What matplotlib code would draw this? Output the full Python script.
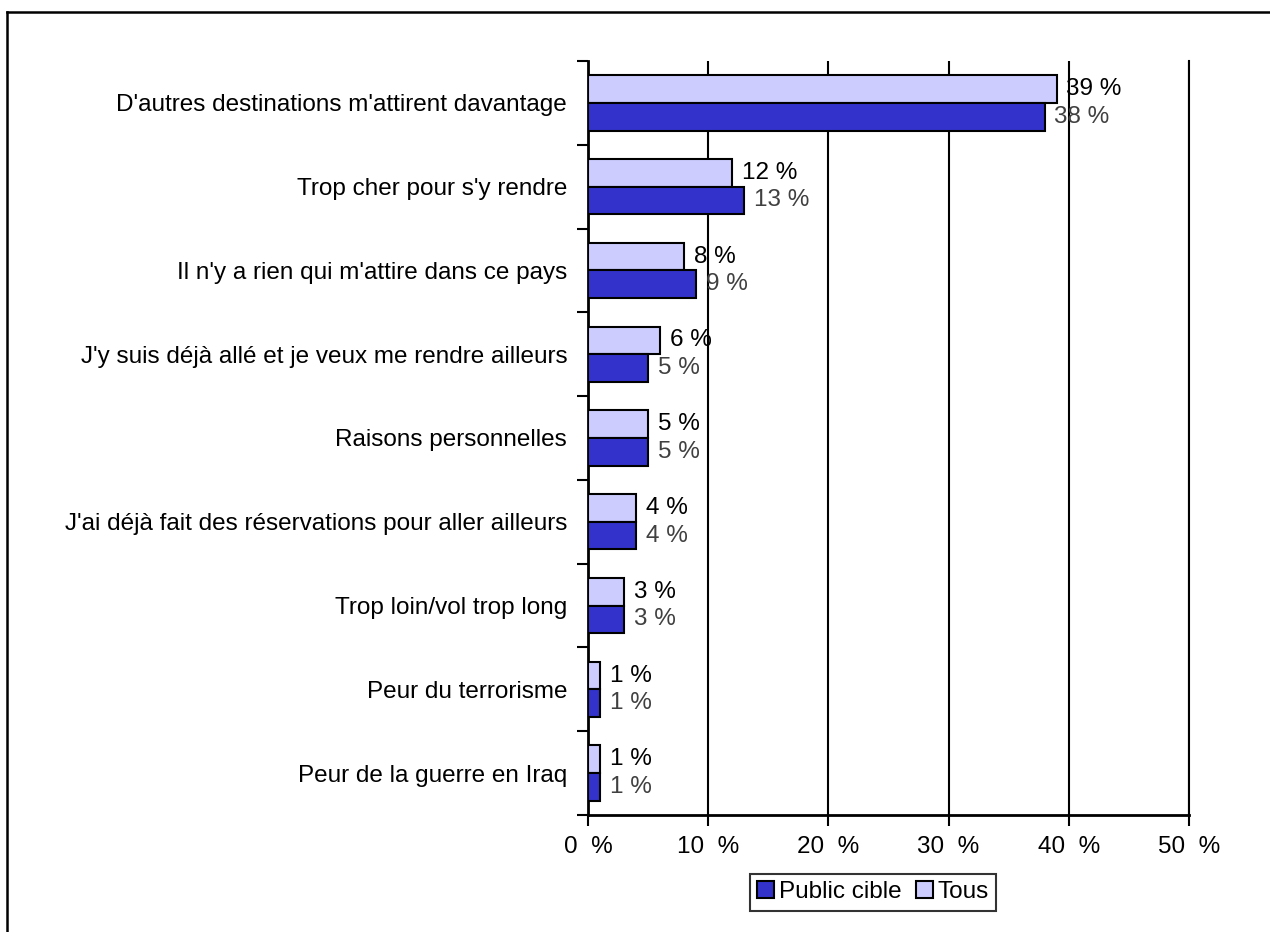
import numpy as np
import matplotlib.pyplot as plt
from matplotlib.lines import Line2D

plt.rcParams['font.family'] = ['Liberation Sans', 'DejaVu Sans']

categories = ["D'autres destinations m'attirent davantage",
              "Trop cher pour s'y rendre",
              "Il n'y a rien qui m'attire dans ce pays",
              "J'y suis déjà allé et je veux me rendre ailleurs",
              "Raisons personnelles",
              "J'ai déjà fait des réservations pour aller ailleurs",
              "Trop loin/vol trop long",
              "Peur du terrorisme",
              "Peur de la guerre en Iraq"]
public_cible = [38, 13, 9, 5, 5, 4, 3, 1, 1]
tous = [39, 12, 8, 6, 5, 4, 3, 1, 1]
xticks = [0, 10, 20, 30, 40, 50]

fs = 17.5

fig = plt.figure(figsize=(12.70, 9.32), dpi=100)
ax = fig.add_axes([588/1270, 1 - 815/932, (1189 - 588)/1270, (815 - 61)/932])

n = len(categories)
y = np.arange(n)
h = 0.33
ax.barh(y - h/2, tous, height=h, color='#CCCCFF', edgecolor='black', linewidth=1.5, label='Tous', zorder=3)
ax.barh(y + h/2, public_cible, height=h, color='#3333CC', edgecolor='black', linewidth=1.5, label='Public cible', zorder=3)

for i in range(n):
    ax.text(tous[i] + 0.8, y[i] - h/2, '%d %%' % tous[i], va='center', ha='left', fontsize=fs, color='black', zorder=5)
    ax.text(public_cible[i] + 0.8, y[i] + h/2, '%d %%' % public_cible[i], va='center', ha='left', fontsize=fs, color='#404040', zorder=5)

ax.set_ylim(n - 0.5, -0.5)
ax.set_xlim(0, 50)
ax.set_xticks(xticks)
ax.set_xticklabels(['%d  %%' % v for v in xticks], fontsize=fs)
ax.tick_params(axis='x', direction='out', length=8, width=1.5, pad=7)
ax.set_yticks(np.arange(n + 1) - 0.5)
ax.set_yticklabels([])
ax.set_yticks(y, minor=True)
ax.set_yticklabels(categories, minor=True, fontsize=fs)
ax.tick_params(axis='y', which='major', direction='out', length=8, width=1.5)
ax.tick_params(axis='y', which='minor', length=0, pad=15)
ax.xaxis.grid(True, color='black', linewidth=1.5, zorder=1)
ax.set_axisbelow(True)
ax.axvline(50, color='black', linewidth=1.5, clip_on=False, zorder=1)
for s in ['top', 'right']:
    ax.spines[s].set_visible(False)
for s in ['left', 'bottom']:
    ax.spines[s].set_linewidth(2)

handles, labels = ax.get_legend_handles_labels()
leg = ax.legend(handles[::-1], labels[::-1], loc='upper center', bbox_to_anchor=(873/1270, 1 - 862/932),
                bbox_transform=fig.transFigure, ncol=2, fontsize=fs, frameon=True, fancybox=False,
                handlelength=0.7, handleheight=0.7, handletextpad=0.2, columnspacing=0.6,
                borderpad=0.3, edgecolor='black')
leg.get_frame().set_linewidth(1.5)

fig.add_artist(Line2D([7/1270, 7/1270], [0, 1 - 12/932], color='black', linewidth=1.8, transform=fig.transFigure))
fig.add_artist(Line2D([7/1270, 1], [1 - 12/932, 1 - 12/932], color='black', linewidth=1.8, transform=fig.transFigure))

fig.savefig('out.png', dpi=100)
